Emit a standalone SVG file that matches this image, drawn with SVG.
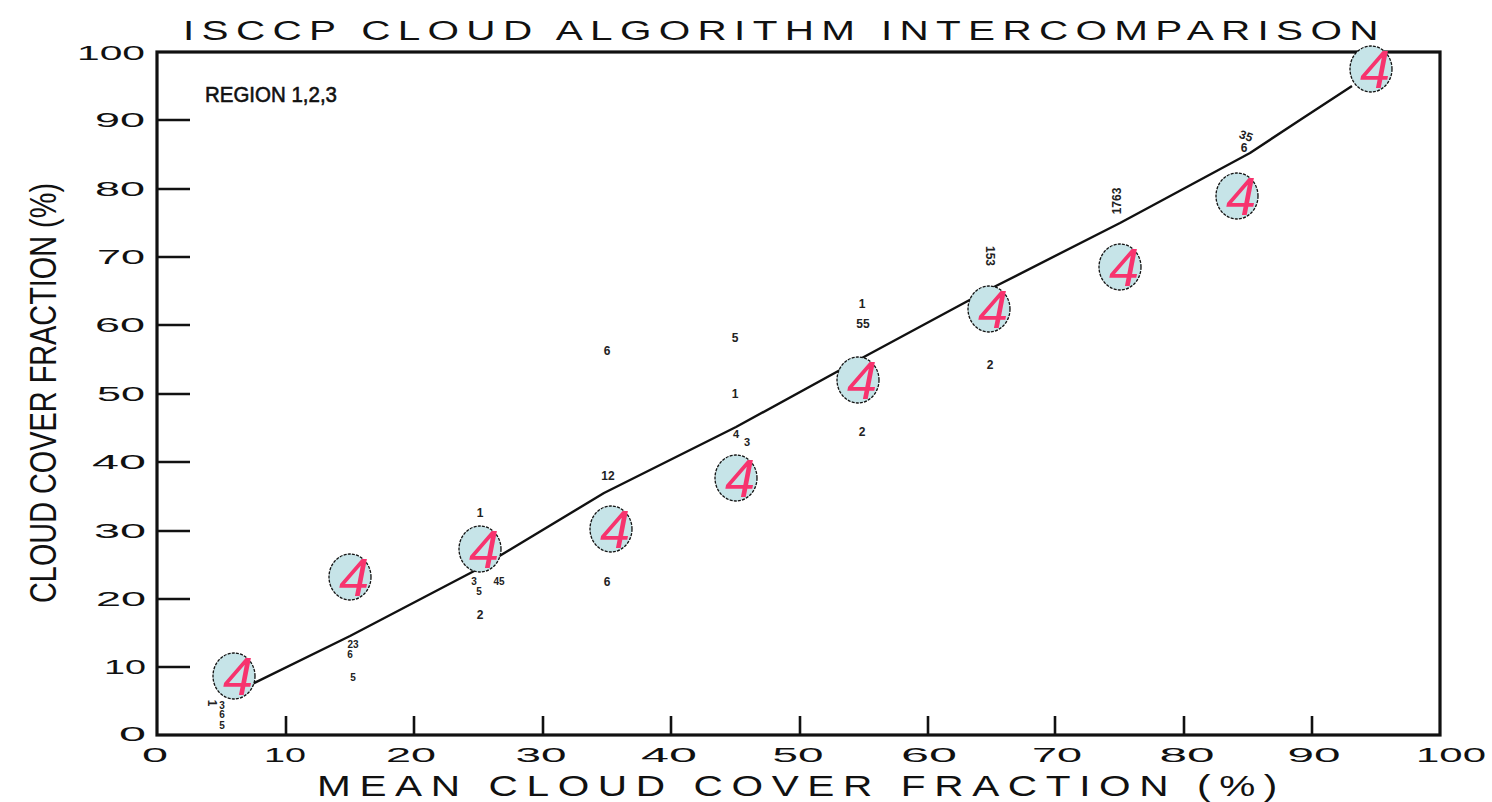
<svg xmlns="http://www.w3.org/2000/svg" width="1492" height="802" viewBox="0 0 1492 802">
<style>
  .bg{fill:#ffffff}
  .frame{fill:none;stroke:#111;stroke-width:3.2}
  .tick{stroke:#111;stroke-width:2.6}
  .t{font-family:"Liberation Sans","DejaVu Sans",sans-serif;fill:#111}
  .title{font-size:27px}
  .reg{font-size:22px;stroke:#111;stroke-width:0.6}
  .ytl{font-size:20px;text-anchor:end}
  .xtl{font-size:20px;text-anchor:middle}
  .axl{font-size:29px}
  .sm{font-size:12px;text-anchor:middle;dominant-baseline:central;font-weight:bold;fill:#222}
  .curve{fill:none;stroke:#111;stroke-width:2.4;stroke-linejoin:round}
  .pt ellipse{fill:#c6e4e8;stroke:#111;stroke-width:1.3;stroke-dasharray:3 1.2}
  .pt text{font-family:"Liberation Sans","DejaVu Sans",sans-serif;font-style:italic;font-size:54px;fill:#f7336e;text-anchor:middle}
</style>
<rect class="bg" x="0" y="0" width="1492" height="802"/>

<g id="title">
  <text class="t title" transform="translate(183,40) scale(1.5,1)" x="0" y="0" textLength="797" lengthAdjust="spacing">ISCCP CLOUD ALGORITHM INTERCOMPARISON</text>
</g>

<g id="axes">
  <rect class="frame" x="157" y="52" width="1283" height="683"/>
  <g class="tick">
    <line x1="157" y1="120" x2="190" y2="120"/>
    <line x1="157" y1="189" x2="190" y2="189"/>
    <line x1="157" y1="257" x2="190" y2="257"/>
    <line x1="157" y1="325" x2="190" y2="325"/>
    <line x1="157" y1="394" x2="190" y2="394"/>
    <line x1="157" y1="462" x2="190" y2="462"/>
    <line x1="157" y1="531" x2="190" y2="531"/>
    <line x1="157" y1="599" x2="190" y2="599"/>
    <line x1="157" y1="667" x2="190" y2="667"/>
    <line x1="286" y1="735" x2="286" y2="716"/>
    <line x1="414" y1="735" x2="414" y2="716"/>
    <line x1="543" y1="735" x2="543" y2="716"/>
    <line x1="671" y1="735" x2="671" y2="716"/>
    <line x1="800" y1="735" x2="800" y2="716"/>
    <line x1="928" y1="735" x2="928" y2="716"/>
    <line x1="1055" y1="735" x2="1055" y2="716"/>
    <line x1="1184" y1="735" x2="1184" y2="716"/>
    <line x1="1312" y1="735" x2="1312" y2="716"/>
  </g>
  <g id="ylabels">
    <text class="t ytl" x="145" y="60" textLength="68" lengthAdjust="spacingAndGlyphs">100</text>
    <text class="t ytl" x="145" y="127" textLength="50" lengthAdjust="spacingAndGlyphs">90</text>
    <text class="t ytl" x="145" y="196" textLength="50" lengthAdjust="spacingAndGlyphs">80</text>
    <text class="t ytl" x="145" y="264" textLength="48" lengthAdjust="spacingAndGlyphs">70</text>
    <text class="t ytl" x="145" y="332" textLength="50" lengthAdjust="spacingAndGlyphs">60</text>
    <text class="t ytl" x="145" y="401" textLength="48" lengthAdjust="spacingAndGlyphs">50</text>
    <text class="t ytl" x="146" y="469" textLength="54" lengthAdjust="spacingAndGlyphs">40</text>
    <text class="t ytl" x="146" y="538" textLength="52" lengthAdjust="spacingAndGlyphs">30</text>
    <text class="t ytl" x="146" y="606" textLength="50" lengthAdjust="spacingAndGlyphs">20</text>
    <text class="t ytl" x="146" y="674" textLength="42" lengthAdjust="spacingAndGlyphs">10</text>
    <text class="t ytl" x="146" y="741" textLength="27" lengthAdjust="spacingAndGlyphs">0</text>
  </g>
  <g id="xlabels">
    <text class="t xtl" x="155" y="762" textLength="26" lengthAdjust="spacingAndGlyphs">0</text>
    <text class="t xtl" x="285" y="762" textLength="42" lengthAdjust="spacingAndGlyphs">10</text>
    <text class="t xtl" x="411" y="762" textLength="50" lengthAdjust="spacingAndGlyphs">20</text>
    <text class="t xtl" x="541" y="762" textLength="51" lengthAdjust="spacingAndGlyphs">30</text>
    <text class="t xtl" x="669" y="762" textLength="56" lengthAdjust="spacingAndGlyphs">40</text>
    <text class="t xtl" x="798" y="762" textLength="51" lengthAdjust="spacingAndGlyphs">50</text>
    <text class="t xtl" x="929" y="762" textLength="56" lengthAdjust="spacingAndGlyphs">60</text>
    <text class="t xtl" x="1057" y="762" textLength="50" lengthAdjust="spacingAndGlyphs">70</text>
    <text class="t xtl" x="1187" y="762" textLength="55" lengthAdjust="spacingAndGlyphs">80</text>
    <text class="t xtl" x="1314" y="762" textLength="53" lengthAdjust="spacingAndGlyphs">90</text>
    <text class="t xtl" x="1451" y="762" textLength="70" lengthAdjust="spacingAndGlyphs">100</text>
  </g>
  <text class="t axl" transform="translate(317,796) scale(1.4,1)" x="0" y="0" textLength="686" lengthAdjust="spacing">MEAN CLOUD COVER FRACTION (%)</text>
  <text class="t axl" transform="translate(56,603) rotate(-90)" x="0" y="0" style="font-size:36px" textLength="420" lengthAdjust="spacingAndGlyphs">CLOUD COVER FRACTION (%)</text>
  <text class="t reg" x="205" y="102" textLength="132" lengthAdjust="spacingAndGlyphs">REGION 1,2,3</text>
</g>

<g id="connectors">
  <polyline class="curve" points="238,691 350,636 478,569 604,493 736,427 862,358 990,289 1120,223 1250,153 1300,120 1352,86"/>
</g>

<g id="small-labels">
  <text class="t sm" transform="translate(212,703) rotate(90)">1</text>
  <text class="t sm" x="222" y="705" style="font-size:10px">3</text>
  <text class="t sm" x="222" y="714" style="font-size:10px">6</text>
  <text class="t sm" x="222" y="725" style="font-size:10px">5</text>
  <text class="t sm" x="353" y="644" style="font-size:10px">23</text>
  <text class="t sm" x="350" y="654" style="font-size:10px">6</text>
  <text class="t sm" x="353" y="677" style="font-size:10px">5</text>
  <text class="t sm" x="480" y="513">1</text>
  <text class="t sm" x="474" y="581" style="font-size:10px">3</text>
  <text class="t sm" x="479" y="591" style="font-size:10px">5</text>
  <text class="t sm" x="499" y="581" style="font-size:10px">45</text>
  <text class="t sm" x="480" y="615">2</text>
  <text class="t sm" x="607" y="351">6</text>
  <text class="t sm" x="608" y="476">12</text>
  <text class="t sm" x="607" y="582">6</text>
  <text class="t sm" x="735" y="338">5</text>
  <text class="t sm" x="735" y="394">1</text>
  <text class="t sm" x="736" y="434" style="font-size:11px">4</text>
  <text class="t sm" x="747" y="442" style="font-size:11px">3</text>
  <text class="t sm" x="862" y="304">1</text>
  <text class="t sm" x="863" y="324">55</text>
  <text class="t sm" x="862" y="432">2</text>
  <text class="t sm" transform="translate(990,256) rotate(90)">153</text>
  <text class="t sm" x="990" y="365">2</text>
  <text class="t sm" transform="translate(1117,201) rotate(-90)">1763</text>
  <text class="t sm" transform="translate(1246,136) rotate(20)">35</text>
  <text class="t sm" x="1244" y="148">6</text>
</g>

<g id="nodes">
  <g id="pt1" class="pt"><ellipse cx="234" cy="676" rx="21" ry="23"/><text x="238" y="695">4</text></g>
  <g id="pt2" class="pt"><ellipse cx="350" cy="577" rx="21" ry="23"/><text x="354" y="596">4</text></g>
  <g id="pt3" class="pt"><ellipse cx="480" cy="549" rx="21" ry="23"/><text x="484" y="568">4</text></g>
  <g id="pt4" class="pt"><ellipse cx="611" cy="529" rx="21" ry="23"/><text x="615" y="548">4</text></g>
  <g id="pt5" class="pt"><ellipse cx="736" cy="478" rx="21" ry="23"/><text x="740" y="497">4</text></g>
  <g id="pt6" class="pt"><ellipse cx="858" cy="380" rx="21" ry="23"/><text x="862" y="399">4</text></g>
  <g id="pt7" class="pt"><ellipse cx="989" cy="309" rx="21" ry="23"/><text x="993" y="328">4</text></g>
  <g id="pt8" class="pt"><ellipse cx="1120" cy="267" rx="21" ry="23"/><text x="1124" y="286">4</text></g>
  <g id="pt9" class="pt"><ellipse cx="1237" cy="196" rx="21" ry="23"/><text x="1241" y="215">4</text></g>
  <g id="pt10" class="pt"><ellipse cx="1371" cy="69" rx="21" ry="23"/><text x="1375" y="88">4</text></g>
</g>
</svg>
